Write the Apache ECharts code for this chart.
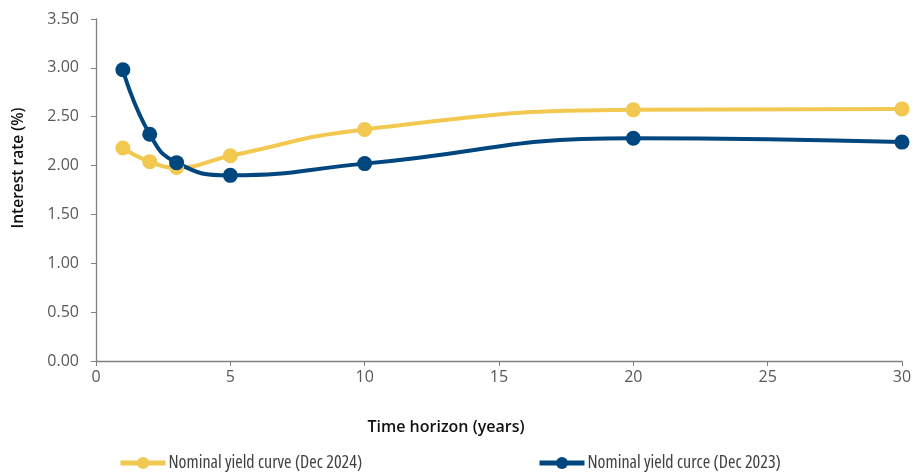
<!DOCTYPE html>
<html>
<head>
<meta charset="utf-8">
<script src="https://cdn.jsdelivr.net/npm/echarts@6/dist/echarts.min.js"></script>
<style>
  html, body { margin: 0; padding: 0; background: #fff; }
  #chart { width: 920px; height: 475px; }
</style>
</head>
<body>
<div id="chart"></div>
<script>
// Maturities in years
const maturities = [1, 2, 3, 5, 10, 20, 30];
// Nominal yields (%)
const yieldsDec2024 = [2.18, 2.04, 1.98, 2.10, 2.37, 2.57, 2.58];
const yieldsDec2023 = [2.98, 2.32, 2.03, 1.90, 2.02, 2.28, 2.24];
const seriesNames = ['Nominal yield curve (Dec 2024)', 'Nominal yield curce (Dec 2023)'];
const xTicks = [0, 5, 10, 15, 20, 25, 30];
const xTitle = 'Time horizon (years)';
const yTitle = 'Interest rate (%)';

const colors = ['#F2C851', '#00467F'];
const font = '"Open Sans", "Noto Sans", sans-serif';

function pairs(xs, ys) { return xs.map((x, i) => [x, ys[i]]); }

function lineSeries(name, values, color) {
  return {
    name: name,
    type: 'line',
    data: pairs(maturities, values),
    smooth: 0.5,
    symbol: 'circle',
    symbolSize: 15,
    lineStyle: { width: 4, color: color },
    itemStyle: { color: color },
    emphasis: { disabled: true },
    z: 3
  };
}

function legendAt(name, left) {
  return {
    data: [name], left: left, top: 454, padding: 0,
    itemWidth: 45, itemHeight: 15, itemGap: 2,
    lineStyle: { width: 5 },
    itemStyle: { borderWidth: 0 },
    textStyle: { fontFamily: font, fontStyle: 'condensed', fontSize: 18, color: '#404040', padding: [0, 0, 0, -2] }
  };
}

const chart = echarts.init(document.getElementById('chart'));
chart.setOption({
  animation: false,
  textStyle: { fontFamily: font },
  grid: { left: 96, right: 18, top: 19, bottom: 114 },
  xAxis: {
    type: 'value',
    min: 0, max: 30, interval: 5,
    axisLine: { lineStyle: { color: '#808080', width: 1.3 } },
    axisTick: { show: true, length: 5, lineStyle: { color: '#808080' } },
    axisLabel: { color: '#595959', fontSize: 16, margin: 8,
      formatter: v => xTicks.includes(v) ? String(v) : '' },
    splitLine: { show: false }
  },
  yAxis: {
    type: 'value',
    min: 0, max: 3.5, interval: 0.5,
    axisLine: { show: true, lineStyle: { color: '#808080', width: 1.3 } },
    axisTick: { show: true, length: 5, lineStyle: { color: '#808080' } },
    axisLabel: { color: '#595959', fontSize: 16, margin: 17, formatter: v => v.toFixed(2) },
    splitLine: { show: false }
  },
  graphic: [
    {
      type: 'text', x: 446, y: 427,
      style: { text: xTitle, font: '600 16px ' + font, fill: '#111', align: 'center', verticalAlign: 'middle' }
    },
    {
      type: 'text', x: 19, y: 168, rotation: Math.PI / 2,
      style: { text: yTitle, font: '600 15.5px ' + font, fill: '#111', align: 'center', verticalAlign: 'middle' }
    }
  ],
  legend: [legendAt(seriesNames[0], 118), legendAt(seriesNames[1], 537)],
  series: [
    lineSeries(seriesNames[0], yieldsDec2024, colors[0]),
    lineSeries(seriesNames[1], yieldsDec2023, colors[1])
  ]
});
</script>
</body>
</html>
